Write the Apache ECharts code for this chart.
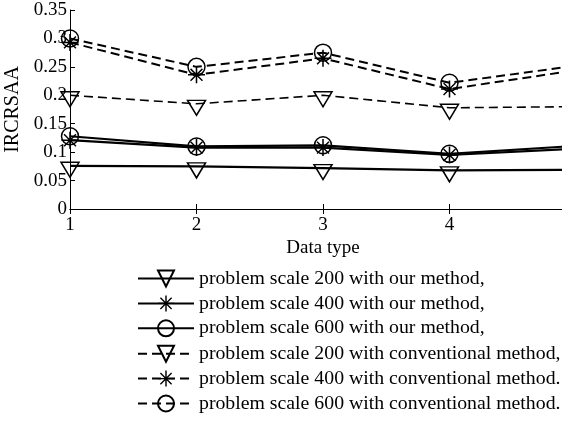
<!DOCTYPE html>
<html>
<head>
<meta charset="utf-8">
<script src="https://cdn.jsdelivr.net/npm/echarts@6/dist/echarts.min.js"></script>
<style>
  html, body { margin: 0; padding: 0; background: #fff; }
  #chart { width: 562px; height: 421px; }
</style>
</head>
<body>
<div id="chart"></div>
<script>
// data
var dataTypes = [1, 2, 3, 4, 5];
var ours200 = [0.076, 0.075, 0.072, 0.068, 0.069];
var ours400 = [0.121, 0.108, 0.108, 0.095, 0.106];
var ours600 = [0.128, 0.110, 0.112, 0.097, 0.111];
var conv200 = [0.200, 0.185, 0.200, 0.178, 0.180];
var conv400 = [0.293, 0.236, 0.265, 0.211, 0.244];
var conv600 = [0.300, 0.250, 0.275, 0.222, 0.252];
var seriesNames = [
    'problem scale 200 with our method,',
    'problem scale 400 with our method,',
    'problem scale 600 with our method,',
    'problem scale 200 with conventional method,',
    'problem scale 400 with conventional method.',
    'problem scale 600 with conventional method.'
];

var font = '"Liberation Serif", "DejaVu Serif", serif';
var star = 'path://M9.1 0h1.8v20h-1.8z M0 9.1h20v1.8h-20z' +
    'M3.6 2.4L17.6 16.4L16.4 17.6L2.4 3.6z M16.4 2.4L17.6 3.6L3.6 17.6L2.4 16.4z';

function pairs(values) {
    return values.map(function (v, i) { return [dataTypes[i], v]; });
}

function makeSeries(name, values, marker, dashed, width) {
    var s = {
        name: name,
        type: 'line',
        data: pairs(values),
        showSymbol: true,
        lineStyle: { color: '#000', width: width, type: dashed ? [9, 5] : 'solid' },
        emphasis: { disabled: true },
        z: 2
    };
    if (marker === 'tri') {
        s.symbol = 'triangle';
        s.symbolRotate = 180;
        s.symbolSize = [18, 15];
        s.symbolOffset = [0, 4];
        s.itemStyle = { color: 'none', borderColor: '#000', borderWidth: 1.5 };
    } else if (marker === 'star') {
        s.symbol = star;
        s.symbolSize = 17;
        s.itemStyle = { color: '#000', borderWidth: 0 };
    } else {
        s.symbol = 'circle';
        s.symbolSize = 17;
        s.itemStyle = { color: 'none', borderColor: '#000', borderWidth: 1.5 };
    }
    return s;
}

var chart = echarts.init(document.getElementById('chart'));

var option = {
    animation: false,
    backgroundColor: '#fff',
    grid: { left: 70, right: -14, top: 10, bottom: 212, outerBoundsMode: 'none' },
    legend: {
        orient: 'vertical',
        left: 137,
        top: 268,
        padding: 0,
        itemWidth: 56,
        itemHeight: 20,
        itemGap: 4.4,
        selectedMode: false,
        textStyle: { fontFamily: font, fontSize: 19.8, color: '#000', lineHeight: 20 },
        data: seriesNames
    },
    xAxis: [{
        type: 'value',
        min: 1,
        max: 5,
        interval: 1,
        name: 'Data type',
        nameLocation: 'middle',
        nameGap: 30,
        nameTextStyle: { fontFamily: font, fontSize: 19, color: '#000' },
        axisLine: { lineStyle: { color: '#000', width: 1 } },
        axisTick: { inside: true, length: 5, lineStyle: { color: '#000' } },
        axisLabel: { fontFamily: font, fontSize: 19, color: '#000', margin: 7 },
        splitLine: { show: false }
    }, {
        type: 'value',
        position: 'top',
        min: 1,
        max: 5,
        interval: 1,
        axisLine: { lineStyle: { color: '#000', width: 1 } },
        axisTick: { inside: true, length: 5, lineStyle: { color: '#000' } },
        axisLabel: { show: false },
        splitLine: { show: false }
    }],
    yAxis: [{
        type: 'value',
        min: 0,
        max: 0.35,
        interval: 0.05,
        name: 'IRCRSAA',
        nameLocation: 'middle',
        nameGap: 46,
        nameTextStyle: { fontFamily: font, fontSize: 20, color: '#000' },
        axisLine: { show: true, lineStyle: { color: '#000', width: 1 } },
        axisTick: { show: true, inside: true, length: 5, lineStyle: { color: '#000' } },
        axisLabel: { fontFamily: font, fontSize: 19, color: '#000', margin: 3 },
        splitLine: { show: false }
    }, {
        type: 'value',
        position: 'right',
        min: 0,
        max: 0.35,
        interval: 0.05,
        axisLine: { show: true, lineStyle: { color: '#000', width: 1 } },
        axisTick: { show: false },
        axisLabel: { show: false },
        splitLine: { show: false }
    }],
    series: [
        makeSeries(seriesNames[0], ours200, 'tri', false, 2.2),
        makeSeries(seriesNames[1], ours400, 'star', false, 2.2),
        makeSeries(seriesNames[2], ours600, 'circle', false, 2.2),
        makeSeries(seriesNames[3], conv200, 'tri', true, 1.6),
        makeSeries(seriesNames[4], conv400, 'star', true, 2),
        makeSeries(seriesNames[5], conv600, 'circle', true, 2)
    ]
};

chart.setOption(option);
</script>
</body>
</html>
